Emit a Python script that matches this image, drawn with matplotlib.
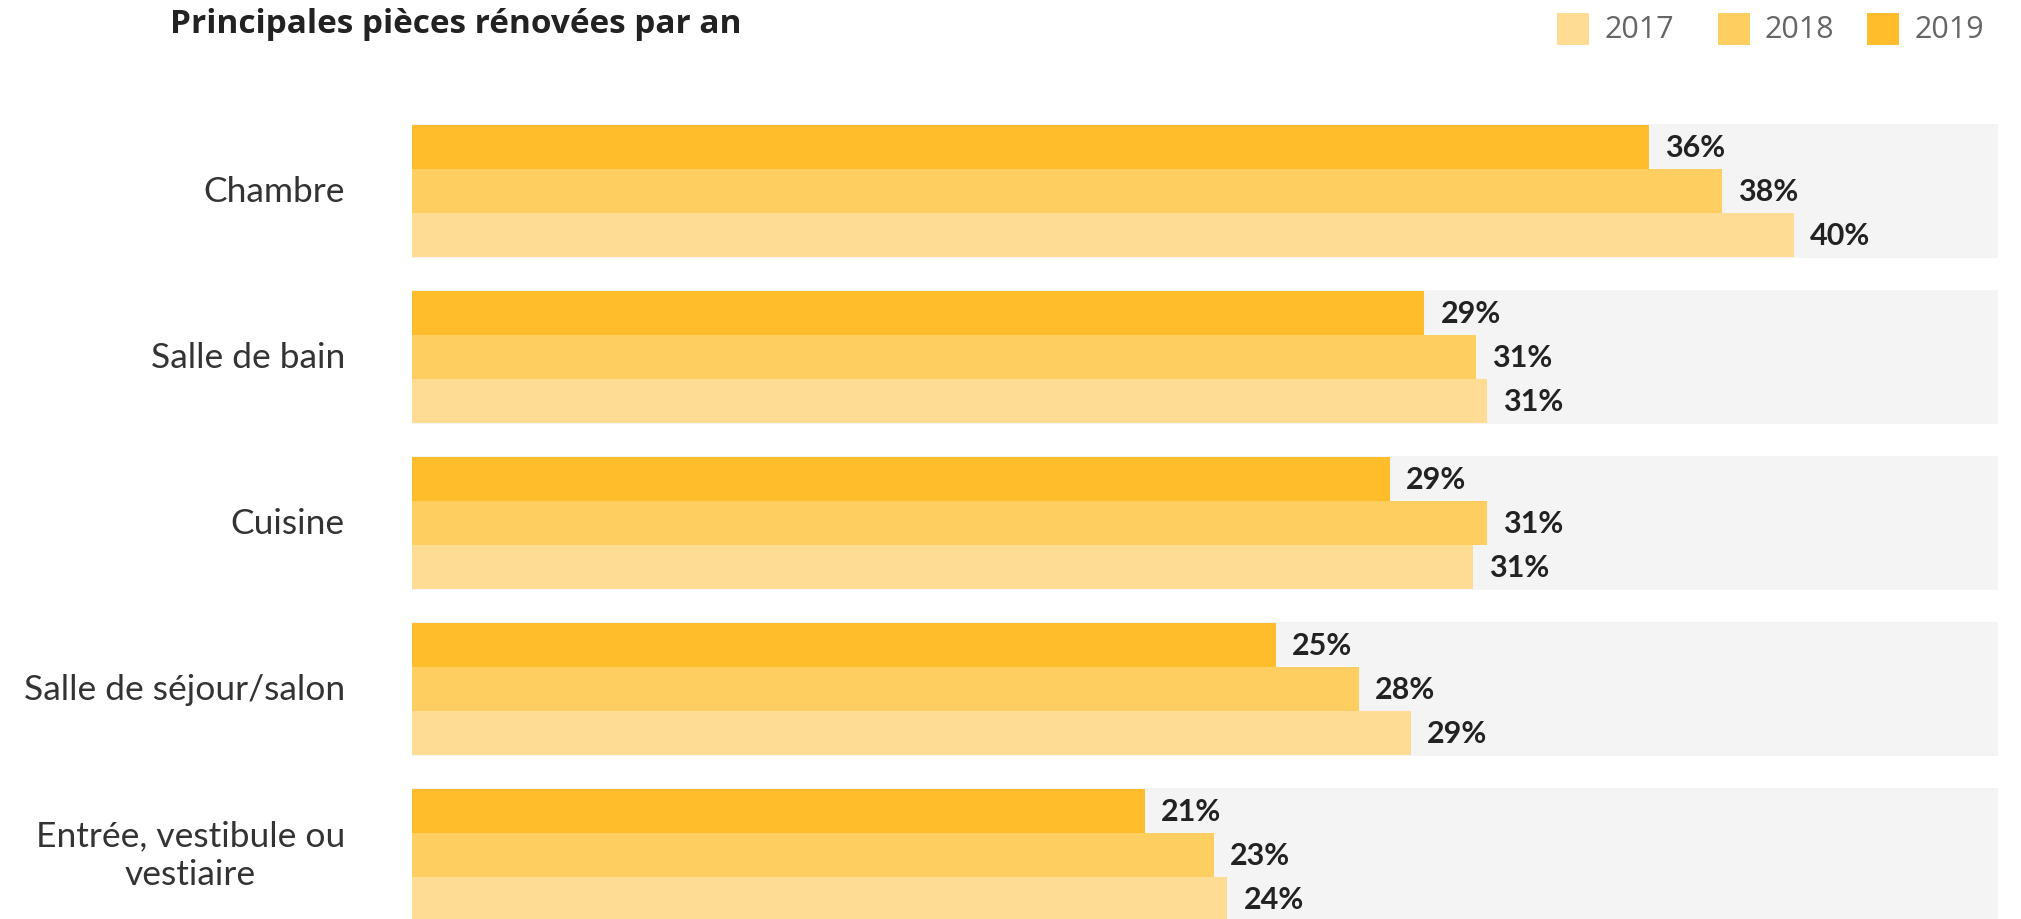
import matplotlib
matplotlib.use("Agg")
import matplotlib.pyplot as plt
from matplotlib.patches import Rectangle

# ---- data ----
categories = ["Chambre", "Salle de bain", "Cuisine", "Salle de séjour/salon",
              "Entrée, vestibule ou\nvestiaire"]
years = ["2017", "2018", "2019"]
values_2019 = [35.8, 29.3, 28.3, 25.0, 21.2]
values_2018 = [37.9, 30.8, 31.1, 27.4, 23.2]
values_2017 = [40.0, 31.1, 30.7, 28.9, 23.6]
labels_2019 = ["36%", "29%", "29%", "25%", "21%"]
labels_2018 = ["38%", "31%", "31%", "28%", "23%"]
labels_2017 = ["40%", "31%", "31%", "29%", "24%"]
x_max = 45.9

colors = {"2017": "#FFDC93", "2018": "#FFCE60", "2019": "#FFBC2B"}
bg_color = "#F4F4F4"

W, H = 2021, 920
fig = plt.figure(figsize=(W / 100, H / 100), dpi=100)

# layout in pixels
left_px, right_px = 412, 1998
first_center_px, pitch_px = 192, 166
bar_px, bg_px = 44, 134

ax = fig.add_axes([left_px / W, 0, (right_px - left_px) / W, 1])
y_top = -first_center_px / pitch_px
y_bot = (H - first_center_px) / pitch_px
ax.set_ylim(y_bot, y_top)
ax.set_xlim(0, x_max)
ax.axis("off")

bh = bar_px / pitch_px
centers = list(range(len(categories)))
px_per_unit = (right_px - left_px) / x_max

ax.barh(centers, [x_max] * len(centers), height=bg_px / pitch_px,
        color=bg_color, zorder=0, linewidth=0)

series = [("2019", values_2019, labels_2019, -1),
          ("2018", values_2018, labels_2018, 0),
          ("2017", values_2017, labels_2017, 1)]
gap = 16 / px_per_unit
for yr, vals, labs, off in series:
    ys = [c + off * bh for c in centers]
    ax.barh(ys, vals, height=bh, color=colors[yr], linewidth=0, zorder=2)
    for y, v, lab in zip(ys, vals, labs):
        ax.text(v + gap, y, lab, ha="left", va="center", fontsize=22,
                fontweight="bold", color="#222222", family="Lato", zorder=3)

label_x = -(left_px - 345) / px_per_unit
for c, name in zip(centers, categories):
    ax.text(label_x, c, name, ha="right", va="center", fontsize=25.5,
            fontweight="normal", color="#333333", family="Lato",
            multialignment="center", linespacing=1.25, clip_on=False)

fig.text(170 / W, 1 - 33 / H, "Principales pièces rénovées par an",
         ha="left", va="baseline", fontsize=24, fontweight="bold",
         color="#222222", family="Open Sans")

# legend (manual, matching the reference's spacing)
sq_px = 32
legend_sq_x = [1557, 1718, 1867]
legend_txt_gap = 47
legend_cy = 30
for yr, sx in zip(years, legend_sq_x):
    fig.patches.append(Rectangle((sx / W, 1 - (legend_cy + sq_px / 2) / H),
                                 sq_px / W, sq_px / H, transform=fig.transFigure,
                                 facecolor=colors[yr], edgecolor="none"))
    fig.text((sx + legend_txt_gap) / W, 1 - legend_cy / H, yr,
             ha="left", va="center", fontsize=22, color="#666666",
             family="Open Sans")

fig.savefig("out.png", dpi=100)
